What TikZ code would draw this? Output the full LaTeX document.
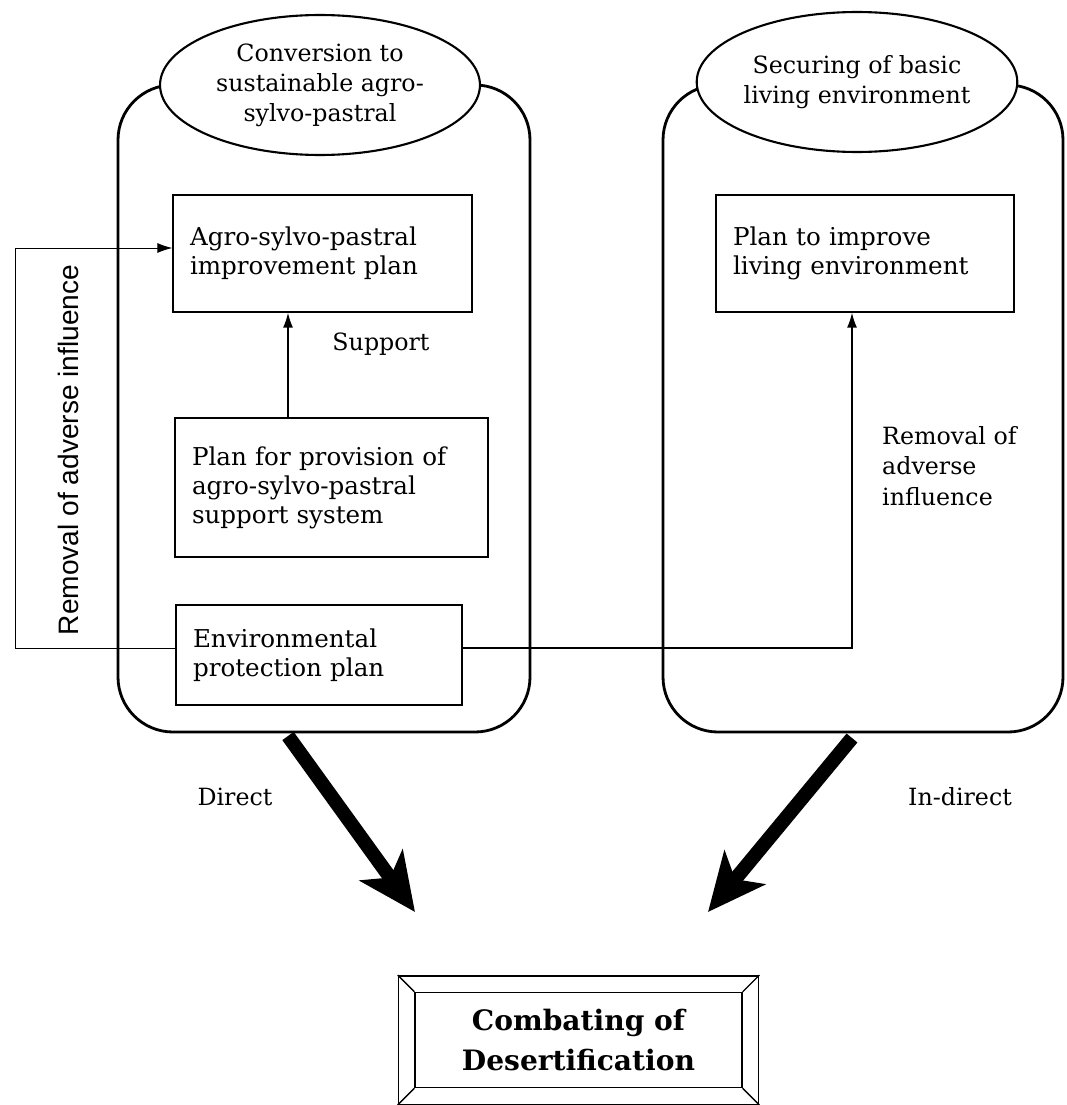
\documentclass[tikz,border=0pt]{standalone}
\usepackage{fontspec}
\setmainfont{DejaVu Serif}
\newfontfamily\sidefont{Liberation Sans}
\usetikzlibrary{shapes.geometric,arrows.meta,fit,positioning}

\begin{document}
\begin{tikzpicture}[x=0.02cm,y=-0.02cm]
      \tikzstyle{zone}=[line width=1.6pt, rounded corners=1.1cm]
      \tikzstyle{aim}=[ellipse, draw=black, line width=1.2pt, fill=white, align=center, inner sep=0pt, font=\fontsize{13.5}{17}\selectfont]
      \tikzstyle{plan}=[rectangle, draw=black, line width=0.8pt, align=left, inner xsep=0.34cm, font=\fontsize{14}{16.5}\selectfont]
      \tikzstyle{connect}=[-{Latex[length=0.3cm,width=0.2cm]}, line width=0.8pt]
      \tikzstyle{feedback}=[-{Latex[length=0.3cm,width=0.2cm]}, line width=0.5pt]
      \tikzstyle{impact}=[-{Stealth[length=1.15cm,width=1.05cm,inset=0.3cm]}, line width=8pt]
      \tikzstyle{lbl}=[align=left, font=\fontsize{13.5}{17.5}\selectfont]

      \useasboundingbox (0,0) rectangle (1066,1105);

      % the two fields of action
      \draw[zone] (118,85) rectangle (530,732);
      \draw[zone] (663,85) rectangle (1063,732);
      \node[aim, minimum width=6.4cm, minimum height=2.8cm] (farm) at (320,85) {Conversion to\\ sustainable agro-\\ sylvo-pastral};
      \node[aim, minimum width=6cm, minimum height=2.8cm] (living) at (857,82) {Securing of basic\\ living environment};

      \node[plan, text width=5.3cm, minimum height=2.34cm] (improve) at (322.5,253.5) {Agro-sylvo-pastral\\ improvement plan};
      \node[plan, text width=5.58cm, minimum height=2.78cm] (supply) at (331.5,487.5) {Plan for provision of\\ agro-sylvo-pastral\\ support system};
      \node[plan, text width=5.04cm, minimum height=2cm] (protect) at (319,655) {Environmental\\ protection plan};
      \node[plan, text width=5.28cm, minimum height=2.34cm] (habitat) at (865,253.5) {Plan to improve\\ living environment};

      \coordinate (lift) at (288,418);
      \coordinate (turn) at (852,648);
      \coordinate (back) at (15,648);
      \draw[connect] (lift) -- (lift |- improve.south);
      \draw[connect] (protect.east |- turn) -| (turn |- habitat.south);
      \draw[feedback] (protect.west |- back) -- (back) |- ([yshift=0.11cm]improve.west);

      \node[lbl] (supportlbl) at (381,344) {Support};
      \node[lbl, anchor=west] (removallbl) at (876,466) {Removal of\\ adverse\\ influence};
      \node[rotate=90, font=\sidefont\fontsize{16}{19}\selectfont] (sidelbl) at (68,450) {Removal of adverse influence};

      % towards the goal
      \coordinate (farmout) at (288,736);
      \coordinate (farmtip) at (415,912);
      \coordinate (livingout) at (852,738);
      \coordinate (livingtip) at (708,912);
      \draw[impact] (farmout) -- (farmtip);
      \draw[impact] (livingout) -- (livingtip);
      \node[lbl] (direct) at (235,797) {Direct};
      \node[lbl] (indirect) at (960,797) {In-direct};

      \node[draw, line width=0.8pt, align=center, minimum width=6.54cm, minimum height=1.9cm, font=\bfseries\fontsize{16}{23}\selectfont] (goal) at (578.5,1040) {Combating of\\ Desertification};
      \node[draw, line width=0.8pt, inner sep=0.32cm, fit=(goal)] (frame) {};
      \foreach \c in {north west, north east, south west, south east}
        \draw[line width=0.8pt] (frame.\c) -- (goal.\c);
\end{tikzpicture}
\end{document}
